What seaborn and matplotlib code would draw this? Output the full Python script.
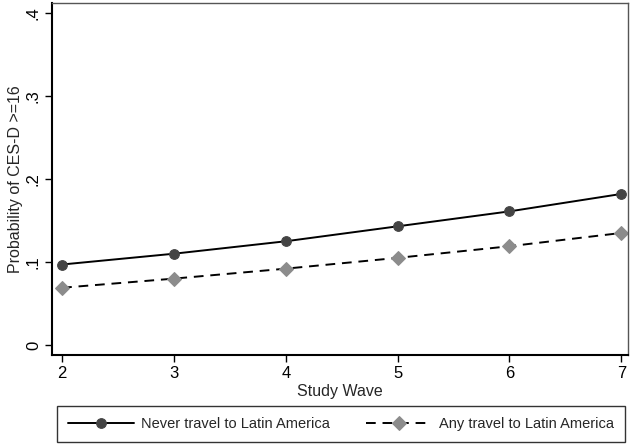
import seaborn as sns
import matplotlib.pyplot as plt
import pandas as pd

waves = [2, 3, 4, 5, 6, 7]
never_travel = [0.097, 0.110, 0.125, 0.143, 0.161, 0.182]
any_travel = [0.069, 0.080, 0.092, 0.105, 0.119, 0.135]
y_ticks = [0, 0.1, 0.2, 0.3, 0.4]
y_labels = ["0", ".1", ".2", ".3", ".4"]

sns.set_style("white")
plt.rcParams['font.family'] = ['Liberation Sans', 'DejaVu Sans']

df = pd.DataFrame({
    "wave": waves * 2,
    "prob": never_travel + any_travel,
    "group": ["Never travel to Latin America"] * 6 + ["Any travel to Latin America"] * 6,
})

fig = plt.figure(figsize=(6.34, 4.45), dpi=100)
ax = fig.add_axes([52 / 634, 1 - 355 / 445, 576 / 634, 352 / 445])

# solid line with dark circles
sns.lineplot(data=df[df.group == "Never travel to Latin America"], x="wave", y="prob",
             color="black", lw=1.4, marker="o", markersize=7, markerfacecolor="#444444",
             markeredgecolor="#444444", label="Never travel to Latin America", ax=ax)
# dashed line with grey diamonds
sns.lineplot(data=df[df.group == "Any travel to Latin America"], x="wave", y="prob",
             color="black", lw=1.4, marker="D", markersize=7, markerfacecolor="#8c8c8c",
             markeredgecolor="#8c8c8c", label="Any travel to Latin America", ax=ax)
ax.lines[1].set_dashes([5, 3.5])

ax.set_xlim(1.91, 7.06)
ax.set_ylim(-0.012, 0.412)
ax.set_xticks(waves)
ax.set_yticks(y_ticks)
ax.set_yticklabels(y_labels, rotation=90, va="center")
ax.tick_params(axis="both", direction="out", length=5, width=1, labelsize=12, colors="black",
               bottom=True, left=True, pad=3)
ax.set_xlabel("Study Wave", fontsize=11.5, labelpad=2)
ax.set_ylabel("Probability of CES-D >=16", fontsize=11.5, labelpad=2)
for s in ["left", "bottom"]:
    ax.spines[s].set_linewidth(1.5)
    ax.spines[s].set_color("black")
for s in ["top", "right"]:
    ax.spines[s].set_linewidth(1.0)
    ax.spines[s].set_color("#555555")

ax.get_legend().remove()
handles, labels = ax.get_legend_handles_labels()
leg = fig.legend(handles, labels, loc="lower left", mode="expand", ncol=2,
                 bbox_to_anchor=(57 / 634, 3 / 445, 568 / 634, 37 / 445),
                 frameon=True, fancybox=False, edgecolor="black", fontsize=10.5,
                 handlelength=4.5, handletextpad=0.5, borderpad=0.75, borderaxespad=0)
leg.get_frame().set_linewidth(1.0)

fig.savefig("out.png", dpi=100, facecolor="white")
